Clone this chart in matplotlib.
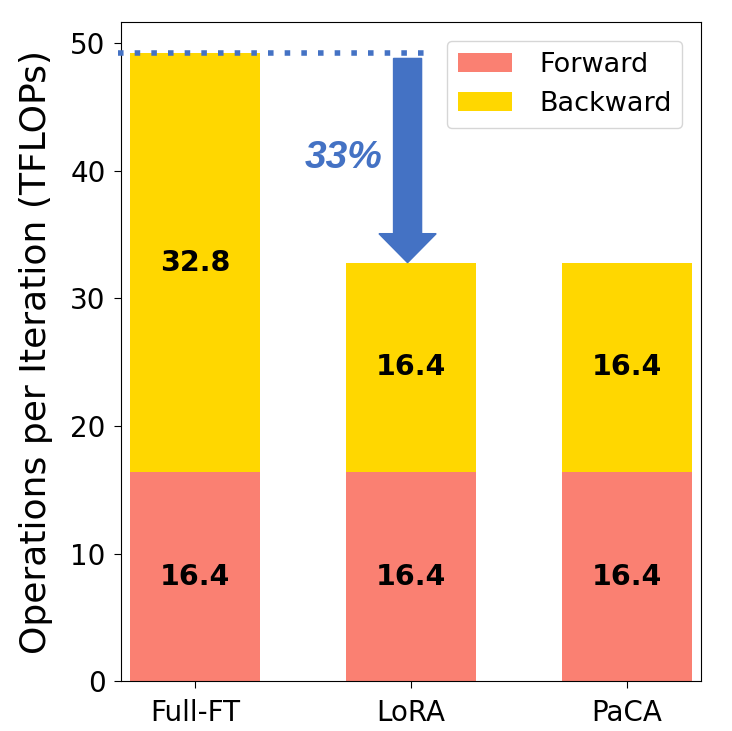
import numpy as np
import matplotlib
matplotlib.use('Agg')
import matplotlib.pyplot as plt

methods = ['Full-FT', 'LoRA', 'PaCA']
forward = [16.4, 16.4, 16.4]
backward = [32.8, 16.4, 16.4]
saving = '33%'

fig = plt.figure(figsize=(7.32, 7.31), dpi=100)
ax = fig.add_axes([0.165, 0.068, 0.793, 0.902])

x = np.arange(len(methods))
b1 = ax.bar(x, forward, 0.6, color='salmon', label='Forward')
b2 = ax.bar(x, backward, 0.6, bottom=forward, color='gold', label='Backward')
ax.bar_label(b1, labels=[str(v) for v in forward], label_type='center',
             fontsize=20.5, fontweight='bold')
ax.bar_label(b2, labels=[str(v) for v in backward], label_type='center',
             fontsize=20.5, fontweight='bold')

ax.set_xticks(x)
ax.set_xticklabels(methods)
ax.tick_params(labelsize=20, length=5, pad=6)
ax.tick_params(axis='x', pad=8)
ax.set_xlim(-0.345, 2.345)
ax.set_ylabel('Operations per Iteration (TFLOPs)', fontsize=26, labelpad=12)
ax.legend(loc='upper right', fontsize=19.5, borderaxespad=0.7,
          handletextpad=1.0)

# annotation: reduction from Full-FT to LoRA
tot = np.array(forward) + np.array(backward)
blue = '#4472C4'
ax.plot([-0.357, 1.09], [tot[0], tot[0]], color=blue, lw=4, ls=(0, (1, 2)),
        clip_on=False, zorder=5)
ax.arrow(0.984, tot[0] - 0.4, 0, tot[1] - tot[0] + 0.4, width=0.13,
         head_width=0.265, head_length=2.27, length_includes_head=True,
         color=blue, zorder=5)
ax.text(0.69, 41.0, saving, color=blue, fontsize=28, fontstyle='italic',
        fontweight='bold', family='Liberation Sans', ha='center', va='center')

fig.savefig('out.png', dpi=100)
